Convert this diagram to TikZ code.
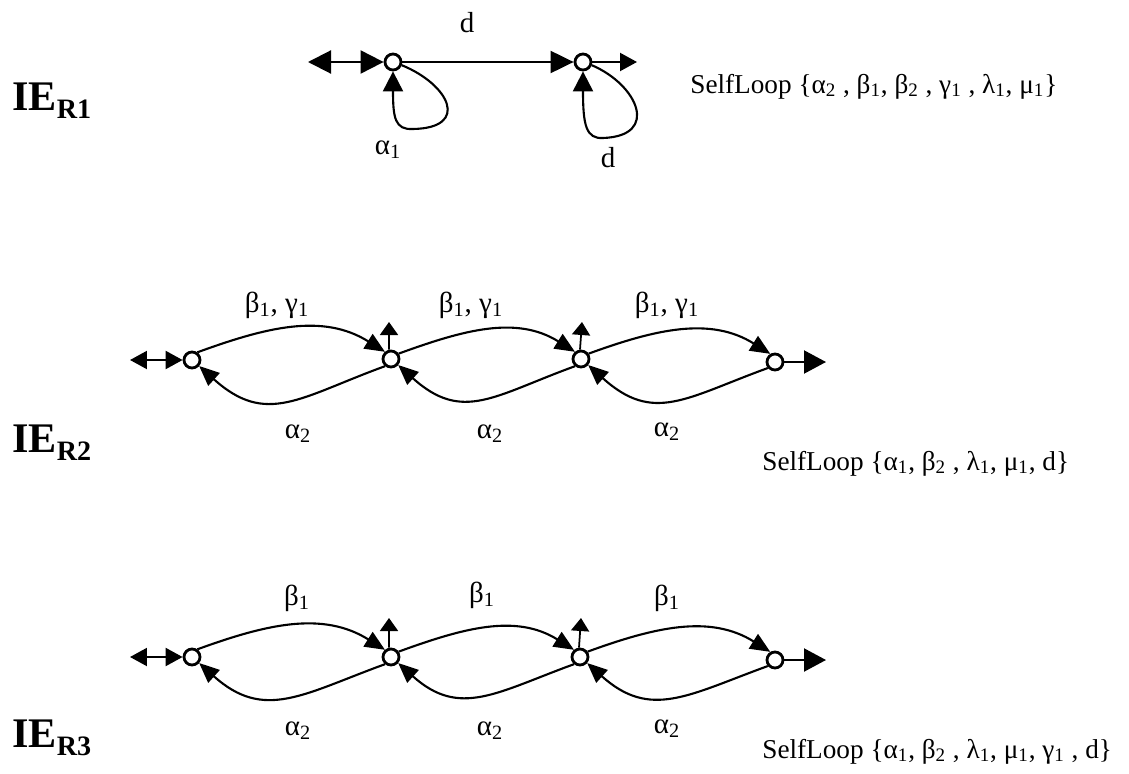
\documentclass[tikz,border=0pt]{standalone}
\usepackage{fontspec}
\setmainfont{Liberation Serif}
\usetikzlibrary{arrows.meta}

\newcommand{\ix}[2]{#1\textsubscript{#2}}
\newcommand{\ielabel}[1]{\fontsize{24pt}{26pt}\selectfont\bfseries IE\raisebox{-0.16cm}{\fontsize{16pt}{18pt}\selectfont #1}}

\tikzset{
  zust/.style={circle, draw, line width=1.6pt, minimum size=0.32cm, inner sep=0pt},
  lab/.style={font=\fontsize{16.5pt}{18pt}\selectfont, inner sep=0pt, anchor=base},
  sl/.style={font=\fontsize{15.5pt}{17pt}\selectfont, inner sep=0pt, anchor=base west},
  ie/.style={inner sep=0pt, anchor=base west},
  pfg/.style={line width=1.2pt, -{Triangle[length=0.46cm,width=0.44cm]}},
  pfk/.style={line width=1.2pt, -{Triangle[length=0.34cm,width=0.36cm]}},
  dpf/.style={line width=1.2pt, {Triangle[length=0.46cm,width=0.46cm]}-{Triangle[length=0.46cm,width=0.46cm]}},
  dpfk/.style={line width=1.2pt, {Triangle[length=0.34cm,width=0.36cm]}-{Triangle[length=0.34cm,width=0.36cm]}},
  bog/.style={line width=1.2pt, -{Triangle[length=0.4cm,width=0.34cm]}},
  hoch/.style={line width=1pt, -{Triangle[length=0.26cm,width=0.36cm]}},
  aus/.style={line width=1.2pt, -{Triangle[length=0.44cm,width=0.46cm]}},
  schl/.style={line width=1.2pt, -{Triangle[length=0.4cm,width=0.4cm]}},
}

\begin{document}
\begin{tikzpicture}[x=0.02cm, y=-0.02cm]
\useasboundingbox (0,0) rectangle (1129,774);
% Zeile R1:
\node[ie] (ie1) at (12,110) {\ielabel{R1}};
\node[zust] (a1) at (393,62) {};
\node[zust] (a2) at (583,62) {};
\coordinate (la) at (308,62);
\coordinate (ra) at (637,62);
\draw[dpf] (la) -- (a1); % Ein-/Ausgang
\draw[pfg] (a1) -- (a2);
\draw[pfk] (a2) -- (ra);
\draw[schl] (a1.-20) .. controls (450,85) and (470,128) .. (413,129) .. controls (395,130) and (393,118) .. (a1.south); % Schleife
\draw[schl] (a2.-20) .. controls (638,85) and (660,136) .. (603,138) .. controls (586,139) and (583,125) .. (a2.south); % Schleife
\node[lab] (d1) at (467,32) {d};
\node[lab] (al1) at (388,154) {\ix{α}{1}};
\node[lab] (d2) at (608,167) {d};
\node[sl] (sl1) at (690,93) {SelfLoop \{\ix{α}{2} , \ix{β}{1}, \ix{β}{2} , \ix{γ}{1} , \ix{λ}{1}, \ix{μ}{1}\}};

% Zeile R2:
\node[ie] (ie2) at (12,452) {\ielabel{R2}};
\node[zust] (b1) at (192,360) {};
\node[zust] (b2) at (391,359) {};
\node[zust] (b3) at (581,359) {};
\node[zust] (b4) at (775,362) {};
\coordinate (lb) at (130,360);
\coordinate (rb) at (826,362);
\draw[dpfk] (lb) -- (b1);
\draw[aus] (b4) -- (rb);
\draw[bog] (b1.55) to[out=20, in=148] (b2.130);
\draw[bog] (b2.35) to[out=20, in=148] (b3.130);
\draw[bog] (b3.35) to[out=20, in=148] (b4.120);
\draw[bog] (b2.-130) to[out=200, in=-42, looseness=1.25] (b1.-40);
\draw[bog] (b3.-130) to[out=200, in=-42, looseness=1.25] (b2.-40);
\draw[bog] (b4.-140) to[out=200, in=-42, looseness=1.25] (b3.-40);
\coordinate (ub2) at (389,322);
\coordinate (ub3) at (582,322);
\draw[hoch] ([xshift=-0.04cm]b2.north) -- (ub2);
\draw[hoch] ([xshift=-0.02cm]b3.north) -- (ub3);
\node[lab] (bg1) at (277,312) {\ix{β}{1}, \ix{γ}{1}};
\node[lab] (bg2) at (471,312) {\ix{β}{1}, \ix{γ}{1}};
\node[lab] (bg3) at (667,312) {\ix{β}{1}, \ix{γ}{1}};
\node[lab] (ab1) at (298,438) {\ix{α}{2}};
\node[lab] (ab2) at (490,438) {\ix{α}{2}};
\node[lab] (ab3) at (667,436) {\ix{α}{2}};
\node[sl] (sl2) at (762,470) {SelfLoop \{\ix{α}{1}, \ix{β}{2} , \ix{λ}{1}, \ix{μ}{1}, d\}};

% Zeile R3:
\node[ie] (ie3) at (12,747) {\ielabel{R3}};
\node[zust] (c1) at (192,657) {};
\node[zust] (c2) at (391,657) {};
\node[zust] (c3) at (580,657) {};
\node[zust] (c4) at (775,660) {};
\coordinate (lc) at (130,657);
\coordinate (rc) at (826,660);
\draw[dpfk] (lc) -- (c1);
\draw[aus] (c4) -- (rc);
\draw[bog] (c1.55) to[out=20, in=148] (c2.130);
\draw[bog] (c2.35) to[out=20, in=148] (c3.130);
\draw[bog] (c3.35) to[out=20, in=148] (c4.120);
\draw[bog] (c2.-130) to[out=200, in=-42, looseness=1.2] (c1.-40);
\draw[bog] (c3.-130) to[out=200, in=-42, looseness=1.2] (c2.-40);
\draw[bog] (c4.-140) to[out=200, in=-42, looseness=1.2] (c3.-40);
\coordinate (uc2) at (389,618);
\coordinate (uc3) at (581,618);
\draw[hoch] ([xshift=-0.04cm]c2.north) -- (uc2);
\draw[hoch] ([xshift=-0.02cm]c3.north) -- (uc3);
\node[lab] (b31) at (297,605) {\ix{β}{1}};
\node[lab] (b32) at (482,602) {\ix{β}{1}};
\node[lab] (b33) at (667,605) {\ix{β}{1}};
\node[lab] (ac1) at (298,735) {\ix{α}{2}};
\node[lab] (ac2) at (490,735) {\ix{α}{2}};
\node[lab] (ac3) at (667,733) {\ix{α}{2}};
\node[sl] (sl3) at (762,758) {SelfLoop \{\ix{α}{1}, \ix{β}{2} , \ix{λ}{1}, \ix{μ}{1}, \ix{γ}{1} , d\}};
\end{tikzpicture}
\end{document}
